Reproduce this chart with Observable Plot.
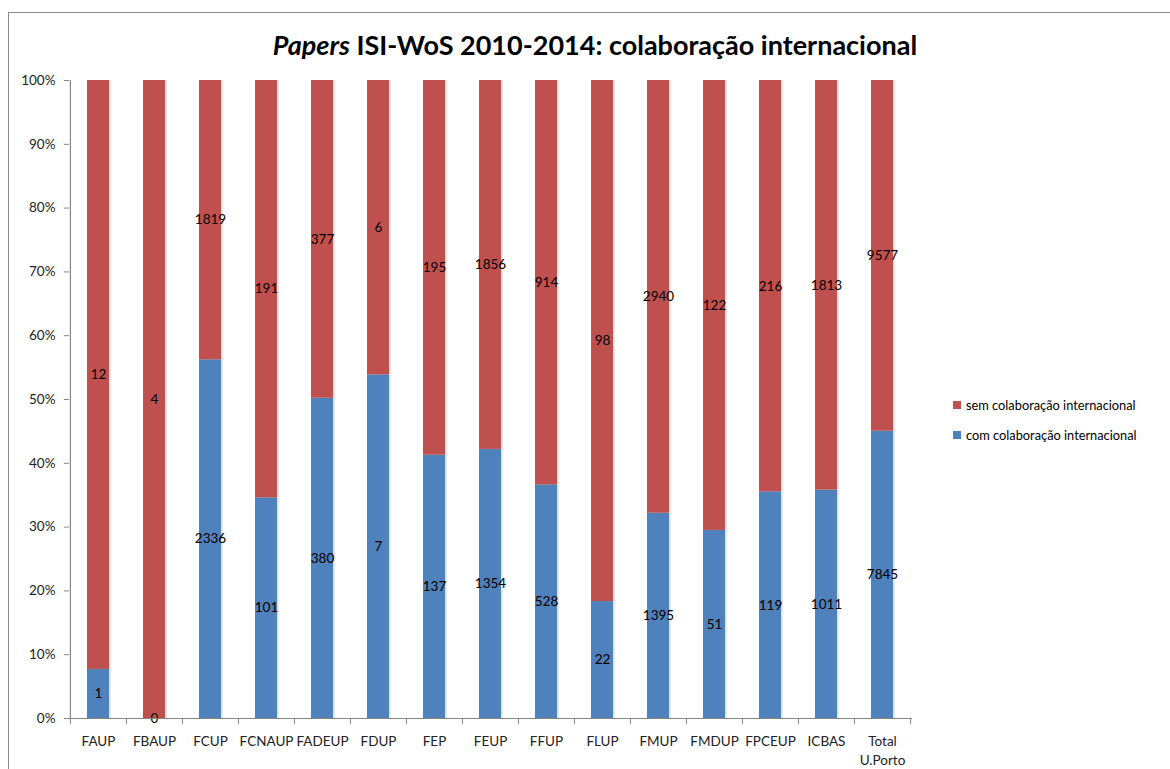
<!DOCTYPE html>
<html>
<head>
<meta charset="utf-8">
<script src="https://cdn.jsdelivr.net/npm/d3@7"></script>
<script src="https://cdn.jsdelivr.net/npm/@observablehq/plot@0.6"></script>
<style>
  body { margin: 0; background: #fff; }
  #wrap { position: relative; width: 1170px; height: 769px; overflow: hidden; font-family: Lato, "Open Sans", sans-serif; }
  #border { position: absolute; left: 8px; top: 12px; width: 1300px; height: 900px; border-left: 1.5px solid #8a8a8a; border-top: 1.5px solid #8a8a8a; }
  #chart { position: absolute; left: 0; top: 0; }
  #title { position: absolute; left: 0; width: 1190px; top: 27px; text-align: center; font-size: 27px; font-weight: bold; color: #000; line-height: 36px; }
  #legend { position: absolute; left: 953px; top: 390px; font-size: 12.8px; color: #000; }
  .li { display: flex; align-items: center; height: 30px; }
  .sw { width: 8px; height: 8px; margin-right: 5px; }
</style>
</head>
<body>
<div id="wrap">
  <div id="border"></div>
  <div id="chart"></div>
  <div id="title"><i>Papers</i> ISI-WoS 2010-2014: colaboração internacional</div>
  <div id="legend"></div>
</div>
<script>
const categories = ["FAUP","FBAUP","FCUP","FCNAUP","FADEUP","FDUP","FEP","FEUP","FFUP","FLUP","FMUP","FMDUP","FPCEUP","ICBAS","Total U.Porto"];
const com = [1, 0, 2336, 101, 380, 7, 137, 1354, 528, 22, 1395, 51, 119, 1011, 7845];
const sem = [12, 4, 1819, 191, 377, 6, 195, 1856, 914, 98, 2940, 122, 216, 1813, 9577];
const series = ["com colaboração internacional", "sem colaboração internacional"];
const colors = ["#4F81BD", "#C0504D"];
const yTicks = [0, 0.1, 0.2, 0.3, 0.4, 0.5, 0.6, 0.7, 0.8, 0.9, 1];

const data = categories.flatMap((c, i) => [
  {cat: c, series: series[0], value: com[i]},
  {cat: c, series: series[1], value: sem[i]}
]);

const W = 1170, H = 769, mL = 69, mR = 258, mT = 80, mB = 51;
const step = (W - mL - mR) / categories.length;
const axisColor = "#868686";
const stackOpts = {x: "cat", y: "value", z: "series", offset: "normalize", order: series};

const chart = Plot.plot({
  width: W, height: H,
  marginLeft: mL, marginRight: mR, marginTop: mT, marginBottom: mB,
  style: {fontFamily: "Lato, 'Open Sans', sans-serif", background: "transparent"},
  x: {domain: categories, paddingInner: 0.6, paddingOuter: 0.3, axis: null, label: null},
  y: {domain: [0, 1], axis: null, label: null},
  color: {domain: series, range: colors},
  marks: [
    Plot.barY(data, Plot.stackY({...stackOpts, fill: "#000", fillOpacity: 0.1, dx: 2})),
    Plot.barY(data, Plot.stackY({...stackOpts, fill: "series"})),
    Plot.text(data, Plot.stackY({...stackOpts, text: d => String(d.value), fontSize: 13.5, fill: "#000"})),
    Plot.ruleY([0], {stroke: axisColor, strokeWidth: 1.2}),
    Plot.ruleX([categories[0]], {y1: 0, y2: 1, dx: -step / 2, stroke: axisColor, strokeWidth: 1.2}),
    Plot.axisY({ticks: yTicks, tickFormat: d3.format(".0%"), tickSize: 5, tickPadding: 9, fontSize: 13.5, stroke: axisColor, fill: "#222", label: null}),
    Plot.axisX({tickSize: 0, tickPadding: 15, fontSize: 13.5, fill: "#222", lineHeight: 1.35, label: null,
      tickFormat: d => d === "Total U.Porto" ? "Total\nU.Porto" : d}),
    Plot.axisX({tickSize: 6, tickFormat: () => "", dx: -step / 2, stroke: axisColor, label: null}),
    Plot.axisX({ticks: [categories[categories.length - 1]], tickSize: 6, tickFormat: () => "", dx: step / 2, stroke: axisColor, label: null})
  ]
});
document.getElementById("chart").appendChild(chart);

const legend = document.getElementById("legend");
[1, 0].forEach(i => {
  const row = document.createElement("div");
  row.className = "li";
  row.innerHTML = `<span class="sw" style="background:${colors[i]}"></span><span>${series[i]}</span>`;
  legend.appendChild(row);
});
</script>
</body>
</html>
